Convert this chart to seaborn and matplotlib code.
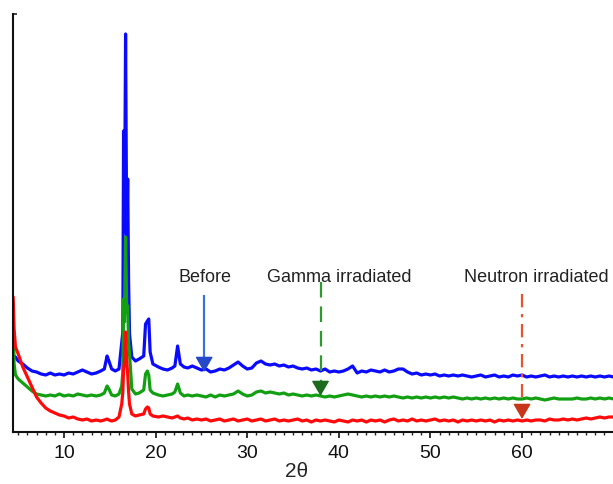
import matplotlib
matplotlib.use("Agg")
import matplotlib.pyplot as plt
import seaborn as sns
import pandas as pd
from matplotlib.ticker import MultipleLocator

# ---------------- data (intensity, arbitrary units) ----------------
two_theta = [
    4.45, 4.55, 4.7, 5.0, 5.5, 6.0, 6.5, 7.0, 7.5, 8.0, 8.5, 9.0, 9.5,
    10.0, 10.5, 11.0, 11.5, 12.0, 12.5, 13.0, 13.5, 14.0, 14.4,
    14.7, 14.9, 15.2, 15.6, 16.0, 16.3, 16.42, 16.5, 16.6, 16.72, 16.85, 16.95, 17.05, 17.15,
    17.4, 17.8, 18.2, 18.7, 18.9, 19.1, 19.25, 19.4, 19.7, 20.3,
    20.8, 21.3, 21.8, 22.1, 22.4, 22.7, 23.1, 23.5, 24.0, 24.5,
    25.0, 25.5, 26.0, 26.5, 27.0, 27.5, 28.0, 28.5, 29.0, 29.5,
    30.0, 30.5, 31.0, 31.5, 32.0, 32.5, 33.0, 33.5, 34.0, 34.5,
    35.0, 35.5, 36.0, 36.5, 37.0, 37.5, 38.0, 38.5, 39.0, 39.5,
    40.0, 40.5, 41.0, 41.5, 42.0, 42.5, 43.0, 43.5, 44.0, 44.5,
    45.0, 45.5, 46.0, 46.5, 47.0, 47.5, 48.0, 48.5, 49.0, 49.5,
    50.0, 50.5, 51.0, 51.5, 52.0, 52.5, 53.0, 53.5, 54.0, 54.5,
    55.0, 55.5, 56.0, 56.5, 57.0, 57.5, 58.0, 58.5, 59.0, 59.5,
    60.0, 60.5, 61.0, 61.5, 62.0, 62.5, 63.0, 63.5, 64.0, 64.5,
    65.0, 65.5, 66.0, 66.5, 67.0, 67.5, 68.0, 68.5, 69.0, 69.5, 70.0,
]

before = [
    78, 75, 75, 71, 68, 64, 61, 60, 58, 57, 59, 57, 58,
    57, 59, 58, 60, 62, 60, 58, 59, 61, 63,
    76, 71, 63, 61, 63, 90, 100, 301, 200, 398, 180, 253, 150, 98,
    75, 71, 73, 76, 108, 111, 113, 80, 68, 65,
    63, 62, 64, 66, 86, 68, 65, 64, 66, 64,
    62, 63, 60, 61, 63, 62, 64, 67, 70, 66,
    63, 64, 69, 71, 68, 67, 68, 66, 67, 65,
    66, 64, 63, 64, 62, 63, 61, 63, 60, 61,
    60, 61, 63, 66, 59, 61, 60, 62, 61, 60,
    62, 60, 61, 63, 63, 60, 58, 59, 57, 58,
    57, 58, 56, 57, 56, 57, 56, 57, 56, 55,
    56, 57, 55, 56, 57, 55, 56, 55, 57, 56,
    57, 55, 56, 55, 56, 57, 55, 56, 55, 56,
    55, 56, 55, 56, 55, 56, 55, 56, 55, 56, 55,
]

gamma = [
    116, 68, 57, 53, 49, 45, 41, 38, 37, 36, 37, 36, 38,
    36, 37, 36, 38, 37, 36, 37, 36, 37, 39,
    46, 43, 37, 36, 38, 46, 60, 133, 110, 195, 120, 126, 90, 78,
    43, 38, 39, 42, 58, 61, 57, 42, 39, 37,
    36, 37, 38, 40, 48, 39, 36, 37, 36, 37,
    36, 35, 37, 35, 37, 36, 37, 38, 41, 38,
    36, 37, 40, 41, 39, 40, 39, 38, 39, 37,
    38, 37, 36, 37, 36, 37, 36, 35, 36, 35,
    36, 37, 38, 37, 36, 35, 36, 35, 36, 35,
    36, 35, 36, 35, 34, 35, 34, 35, 34, 35,
    34, 35, 34, 35, 34, 35, 34, 33, 34, 33,
    34, 33, 34, 33, 34, 33, 34, 33, 34, 33,
    33, 34, 33, 34, 33, 32, 33, 34, 33, 33,
    33, 33, 34, 33, 33, 34, 33, 34, 33, 34, 33,
]

neutron = [
    135, 103, 85, 78, 65, 55, 45, 35, 29, 24, 21, 19, 17,
    16, 14, 15, 13, 12, 13, 11, 12, 11, 12,
    13, 12, 11, 12, 15, 28, 40, 63, 70, 100, 70, 58, 40, 28,
    18, 16, 17, 18, 23, 25, 24, 18, 16, 15,
    16, 15, 14, 15, 16, 14, 13, 14, 12, 13,
    12, 13, 11, 12, 13, 11, 12, 13, 11, 12,
    13, 11, 12, 13, 11, 12, 13, 11, 12, 11,
    12, 13, 11, 12, 10, 12, 11, 12, 11, 10,
    12, 11, 10, 12, 11, 12, 10, 12, 11, 12,
    10, 12, 13, 11, 12, 11, 13, 11, 12, 11,
    12, 13, 11, 12, 11, 12, 10, 12, 11, 12,
    11, 12, 11, 12, 10, 12, 11, 12, 11, 12,
    11, 12, 11, 12, 12, 11, 13, 12, 12, 13,
    12, 13, 12, 13, 14, 13, 14, 15, 14, 15, 15,
]

series_names = ["Before", "Gamma irradiated", "Neutron irradiated"]
series_colors = ["#0a0aff", "#12a012", "#ff0a0a"]

x_ticks = [10, 20, 30, 40, 50, 60]

# annotation arrows
arrow_x = [25.3, 38.0, 60.0]
arrow_top = [137, 150, 138]
arrow_tip = [60, 36, 13]
arrow_styles = ["-", (0, (7, 4)), (0, (6, 3, 1.5, 3))]
shaft_colors = ["#3a6fe0", "#2e9a2e", "#e8542e"]
head_colors = ["#2448c8", "#1d6b1d", "#c8361a"]
label_x = [25.4, 40.0, 61.6]
label_y = 156

# ---------------- figure ----------------
sns.set_style("ticks")
plt.rcParams["font.family"] = ["Liberation Sans", "DejaVu Sans"]

fig = plt.figure(figsize=(6.13, 4.85), dpi=100)
ax = fig.add_axes([13 / 613, 52 / 485, 600 / 613, 418 / 485])

df = pd.DataFrame({
    "two_theta": two_theta * 3,
    "intensity": before + gamma + neutron,
    "sample": [series_names[0]] * len(before)
    + [series_names[1]] * len(gamma)
    + [series_names[2]] * len(neutron),
})

sns.lineplot(
    data=df, x="two_theta", y="intensity", hue="sample",
    hue_order=series_names, palette=series_colors,
    estimator=None, sort=False, linewidth=2.3, legend=False, ax=ax,
)

for xa, top, tip, ls, sc, hc, lab, lx in zip(
    arrow_x, arrow_top, arrow_tip, arrow_styles, shaft_colors, head_colors,
    series_names, label_x,
):
    head_len = 13
    ax.plot([xa, xa], [top, tip + head_len], color=sc, linestyle=ls,
            linewidth=1.6, solid_capstyle="butt")
    ax.annotate(
        "", xy=(xa, tip), xytext=(xa, tip + head_len),
        arrowprops=dict(arrowstyle="-|>,head_length=0.95,head_width=0.55",
                        mutation_scale=10, color=hc, shrinkA=0, shrinkB=0,
                        linewidth=1.0),
    )
    ax.text(lx, label_y, lab, ha="center", va="center", fontsize=13,
            color="#222222")

ax.set_xlim(4.43, 69.93)
ax.set_ylim(0, 418)
ax.set_xticks(x_ticks)
ax.xaxis.set_minor_locator(MultipleLocator(1))
ax.set_yticks([418])
ax.set_yticklabels([])
ax.tick_params(axis="x", which="major", direction="out", length=4, width=1.2,
               labelsize=14, pad=5, colors="#111111")
ax.tick_params(axis="x", which="minor", direction="out", length=2.5, width=1.0)
ax.tick_params(axis="y", which="major", direction="in", length=3, width=1.2)

for side in ["top", "right"]:
    ax.spines[side].set_visible(False)
for side in ["left", "bottom"]:
    ax.spines[side].set_linewidth(1.5)
    ax.spines[side].set_color("#111111")

ax.set_xlabel("2\u03b8", fontsize=15, labelpad=2)
ax.xaxis.set_label_coords((297 - 13) / 600, -0.07)
ax.set_ylabel("")

fig.savefig("out.png", dpi=100)
